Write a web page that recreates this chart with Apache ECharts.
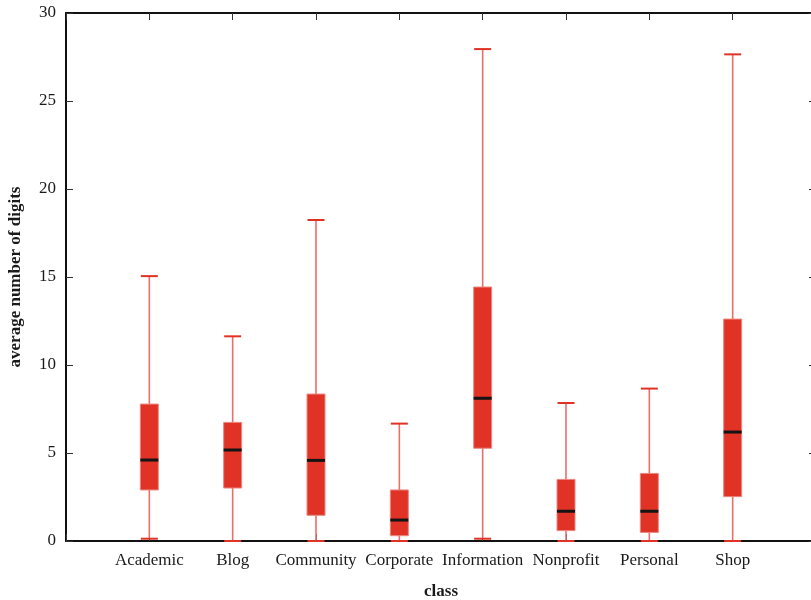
<!DOCTYPE html>
<html><head><meta charset="utf-8">
<script src="https://cdn.jsdelivr.net/npm/echarts@6/dist/echarts.min.js"></script>
<style>html,body{margin:0;padding:0;background:#fff}#c{width:811px;height:600px}</style>
</head><body><div id="c"></div>
<script>
const categories = ['Academic','Blog','Community','Corporate','Information','Nonprofit','Personal','Shop'];
const whiskerLow  = [0.13, 0, 0, 0, 0.13, 0, 0, 0];
const q1          = [2.9, 3.01, 1.46, 0.3, 5.27, 0.59, 0.49, 2.52];
const medians     = [4.6, 5.17, 4.58, 1.19, 8.11, 1.69, 1.69, 6.19];
const q3          = [7.78, 6.74, 8.35, 2.9, 14.43, 3.5, 3.84, 12.61];
const whiskerHigh = [15.05, 11.63, 18.24, 6.67, 27.95, 7.84, 8.66, 27.65];
const yTicks = [0, 5, 10, 15, 20, 25, 30];

const axisCats = [''].concat(categories, ['']);
const data = categories.map((c, i) => [i + 1, whiskerLow[i], q1[i], medians[i], q3[i], whiskerHigh[i]]);
const font = '"Liberation Serif","DejaVu Serif",serif';

const chart = echarts.init(document.getElementById('c'), null, {renderer: 'canvas'});
chart.setOption({
  animation: false,
  grid: {left: 66, top: 13, width: 750, height: 528, containLabel: false, outerBoundsMode: 'none'},
  xAxis: [{
    type: 'category', data: axisCats, boundaryGap: false, position: 'bottom',
    axisLine: {show: true, onZero: false, lineStyle: {color: '#111', width: 2}},
    axisTick: {show: true, inside: true, length: 7, lineStyle: {color: '#333', width: 1}},
    axisLabel: {color: '#1a1a1a', fontFamily: font, fontSize: 17, margin: 11, interval: 0},
    splitLine: {show: false},
    name: 'class', nameLocation: 'middle', nameGap: 42,
    nameTextStyle: {color: '#1a1a1a', fontFamily: font, fontSize: 17, fontWeight: 'bold'}
  }, {
    type: 'category', data: axisCats, boundaryGap: false, position: 'top',
    axisLine: {show: true, onZero: false, lineStyle: {color: '#111', width: 2}},
    axisTick: {show: true, inside: true, length: 7, lineStyle: {color: '#333', width: 1}},
    axisLabel: {show: false}, splitLine: {show: false}
  }],
  yAxis: [{
    type: 'value', min: 0, max: 30, interval: 5, position: 'left',
    axisLine: {show: true, onZero: false, lineStyle: {color: '#111', width: 2}},
    axisTick: {show: true, inside: true, length: 7, lineStyle: {color: '#333', width: 1}},
    axisLabel: {color: '#1a1a1a', fontFamily: font, fontSize: 17, margin: 10,
      formatter: v => yTicks.includes(v) ? String(v) : ''},
    splitLine: {show: false},
    name: 'average number of digits', nameLocation: 'middle', nameGap: 42, nameRotate: 90,
    nameTextStyle: {color: '#1a1a1a', fontFamily: font, fontSize: 17, fontWeight: 'bold'}
  }, {
    type: 'value', min: 0, max: 30, interval: 5, position: 'right',
    axisLine: {show: true, onZero: false, lineStyle: {color: '#111', width: 2}},
    axisTick: {show: true, inside: true, length: 7, lineStyle: {color: '#333', width: 1}},
    axisLabel: {show: false}, splitLine: {show: false}
  }],
  series: [{
    type: 'custom',
    xAxisIndex: 0, yAxisIndex: 0,
    data: data,
    z: 1,
    renderItem: function (params, api) {
      const xi = api.value(0);
      const x = api.coord([xi, 0])[0];
      const yLow = api.coord([xi, api.value(1)])[1];
      const yQ1 = api.coord([xi, api.value(2)])[1];
      const yMed = api.coord([xi, api.value(3)])[1];
      const yQ3 = api.coord([xi, api.value(4)])[1];
      const yHigh = api.coord([xi, api.value(5)])[1];
      const hw = 9;
      return {
        type: 'group',
        children: [
          {type: 'line', shape: {x1: x, y1: yLow, x2: x, y2: yHigh},
            style: {stroke: '#e8706a', lineWidth: 1.6}},
          {type: 'line', shape: {x1: x - hw + 0.5, y1: yHigh, x2: x + hw - 0.5, y2: yHigh},
            style: {stroke: '#e03326', lineWidth: 2}},
          {type: 'line', shape: {x1: x - hw + 0.5, y1: yLow, x2: x + hw - 0.5, y2: yLow},
            style: {stroke: '#e03326', lineWidth: 2}},
          {type: 'rect', shape: {x: x - hw, y: yQ3, width: hw * 2, height: yQ1 - yQ3},
            style: {fill: '#e03326', stroke: '#eb8780', lineWidth: 1}},
          {type: 'line', shape: {x1: x - hw, y1: yMed, x2: x + hw, y2: yMed},
            style: {stroke: '#141414', lineWidth: 3}}
        ]
      };
    }
  }]
});
</script>
</body></html>
